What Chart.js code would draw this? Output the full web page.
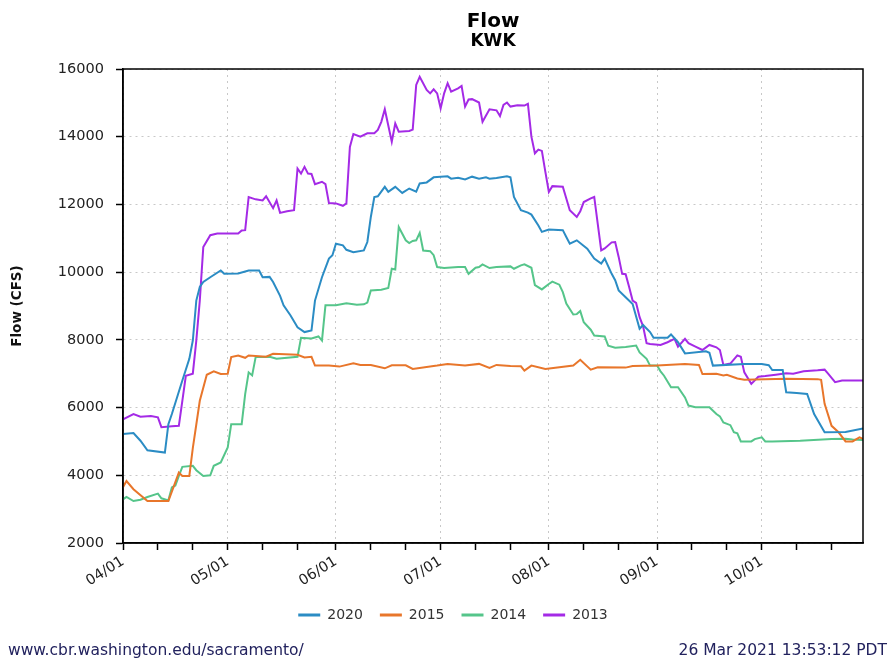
<!DOCTYPE html>
<html>
<head>
<meta charset="utf-8">
<title>Flow KWK</title>
<script src="https://cdn.jsdelivr.net/npm/chart.js@4/dist/chart.umd.min.js"></script>
<style>
  html, body { margin: 0; padding: 0; background: #fff; }
  #wrap { width: 891px; height: 659px; }
</style>
</head>
<body>
<div id="wrap"><canvas id="flowChart" width="891" height="659"></canvas></div>
<script>
// ---- data: day offsets from 04/01, flow in CFS ----
const tickDays = [0, 10, 20, 30, 40, 50, 61, 71, 81, 91, 101, 111, 122, 132, 142, 153, 163, 173, 183, 193, 203];
const monthLabels = { 0: '04/01', 30: '05/01', 61: '06/01', 91: '07/01', 122: '08/01', 153: '09/01', 183: '10/01' };
const yTicks = [2000, 4000, 6000, 8000, 10000, 12000, 14000, 16000];
const seriesNames = ['2020', '2015', '2014', '2013'];

const days2020 = [0, 3, 5, 7, 12, 13, 14, 17, 19, 20, 21, 22, 23, 25, 28, 29, 33, 36, 39, 40, 42, 43, 45, 46, 48, 50, 52, 54, 55, 57, 59, 60, 61, 63, 64, 66, 69, 70, 71, 72, 73, 75, 76, 78, 80, 82, 84, 85, 87, 89, 93, 94, 96, 98, 100, 102, 104, 105, 107, 110, 111, 112, 114, 116, 117, 119, 120, 122, 126, 127, 128, 130, 133, 135, 137, 138, 140, 141, 142, 144, 146, 148, 149, 151, 152, 156, 157, 159, 161, 167, 168, 169, 178, 183, 185, 186, 189, 190, 193, 196, 198, 201, 207, 212];
const flow2020 = [5220, 5250, 5020, 4740, 4670, 5510, 5810, 6800, 7440, 7980, 9160, 9560, 9710, 9850, 10050, 9950, 9960, 10050, 10050, 9850, 9860, 9710, 9300, 9020, 8720, 8370, 8230, 8280, 9160, 9850, 10400, 10500, 10840, 10790, 10660, 10590, 10640, 10890, 11630, 12220, 12240, 12520, 12370, 12520, 12340, 12470, 12380, 12620, 12650, 12800, 12830, 12760, 12790, 12740, 12820, 12760, 12800, 12760, 12780, 12830, 12800, 12220, 11830, 11760, 11700, 11380, 11190, 11260, 11240, 11040, 10840, 10940, 10690, 10400, 10250, 10400, 9950, 9760, 9460, 9260, 9060, 8330, 8440, 8230, 8060, 8060, 8160, 7930, 7600, 7660, 7620, 7240, 7290, 7290, 7250, 7110, 7110, 6450, 6430, 6400, 5810, 5270, 5280, 5380];

const days2015 = [0, 1, 3, 7, 13, 16, 17, 19, 20, 21, 22, 24, 26, 28, 30, 31, 33, 35, 36, 41, 43, 50, 52, 54, 55, 59, 62, 66, 68, 71, 75, 77, 81, 83, 90, 93, 98, 102, 105, 107, 111, 114, 115, 117, 121, 129, 131, 134, 136, 144, 146, 153, 161, 165, 166, 170, 172, 173, 176, 178, 190, 199, 200, 201, 203, 205, 207, 209, 211, 212];
const flow2015 = [3650, 3830, 3590, 3240, 3240, 4080, 3980, 3980, 4800, 5500, 6200, 6970, 7070, 6990, 7000, 7490, 7540, 7470, 7540, 7500, 7590, 7560, 7480, 7500, 7240, 7240, 7210, 7310, 7260, 7260, 7160, 7250, 7250, 7140, 7240, 7290, 7240, 7290, 7170, 7260, 7230, 7220, 7090, 7240, 7140, 7240, 7410, 7120, 7190, 7180, 7230, 7240, 7290, 7260, 6990, 7000, 6950, 6970, 6860, 6820, 6850, 6840, 6820, 6110, 5460, 5270, 5000, 5000, 5120, 5080];

const days2014 = [0, 1, 3, 5, 7, 10, 11, 13, 14, 15, 16, 17, 20, 21, 23, 25, 26, 28, 30, 31, 34, 35, 36, 37, 38, 42, 44, 50, 51, 54, 56, 57, 58, 61, 64, 67, 69, 70, 71, 74, 76, 77, 78, 79, 81, 82, 83, 84, 85, 86, 88, 89, 90, 92, 96, 98, 99, 101, 102, 103, 105, 107, 111, 112, 114, 115, 117, 118, 120, 122, 123, 125, 126, 127, 129, 130, 131, 132, 134, 135, 138, 139, 141, 144, 147, 148, 150, 151, 153, 154, 155, 157, 159, 161, 162, 164, 168, 170, 171, 172, 174, 175, 176, 177, 180, 181, 183, 184, 186, 194, 203, 207, 209, 212];
const flow2014 = [3290, 3360, 3240, 3280, 3360, 3460, 3320, 3260, 3640, 3700, 3980, 4250, 4280, 4150, 3980, 4000, 4280, 4380, 4820, 5510, 5510, 6400, 7040, 6950, 7490, 7500, 7440, 7500, 8060, 8040, 8100, 7980, 9020, 9020, 9080, 9040, 9050, 9100, 9460, 9480, 9530, 10100, 10080, 11330, 10940, 10860, 10920, 10940, 11160, 10640, 10620, 10500, 10150, 10120, 10150, 10150, 9950, 10130, 10150, 10230, 10120, 10150, 10170, 10100, 10200, 10230, 10130, 9620, 9490, 9650, 9720, 9630, 9410, 9070, 8750, 8760, 8850, 8520, 8300, 8130, 8100, 7830, 7770, 7790, 7830, 7630, 7440, 7240, 7240, 7070, 6940, 6600, 6600, 6300, 6060, 6010, 6010, 5810, 5740, 5560, 5480, 5270, 5240, 5000, 5000, 5070, 5120, 5000, 5000, 5020, 5070, 5080, 5060, 5040];

const days2013 = [0, 3, 5, 8, 10, 11, 14, 16, 17, 18, 20, 21, 22, 23, 25, 27, 33, 34, 35, 36, 38, 40, 41, 43, 44, 45, 47, 49, 50, 51, 52, 53, 54, 55, 57, 58, 59, 61, 63, 64, 65, 66, 68, 70, 72, 73, 74, 75, 77, 78, 79, 82, 83, 84, 85, 87, 88, 89, 90, 91, 92, 93, 94, 96, 97, 98, 99, 100, 102, 103, 105, 107, 108, 109, 110, 111, 113, 115, 116, 117, 118, 119, 120, 121, 122, 123, 126, 128, 130, 131, 132, 134, 135, 137, 138, 140, 141, 142, 143, 144, 145, 146, 147, 148, 149, 150, 151, 154, 156, 158, 159, 161, 162, 164, 166, 168, 170, 171, 172, 174, 176, 177, 178, 180, 182, 184, 187, 190, 192, 195, 199, 201, 202, 204, 206, 209, 212];
const flow2013 = [5650, 5810, 5730, 5750, 5710, 5420, 5450, 5460, 6200, 6940, 7000, 7980, 9160, 10740, 11090, 11140, 11140, 11230, 11240, 12220, 12150, 12120, 12240, 11890, 12120, 11750, 11800, 11830, 13060, 12910, 13110, 12910, 12900, 12600, 12670, 12600, 12040, 12030, 11960, 12030, 13700, 14080, 14000, 14100, 14100, 14200, 14440, 14810, 13850, 14390, 14150, 14170, 14210, 15530, 15770, 15380, 15280, 15400, 15280, 14840, 15280, 15580, 15330, 15430, 15500, 14890, 15100, 15110, 15010, 14440, 14810, 14780, 14610, 14940, 15010, 14890, 14930, 14920, 14970, 14000, 13510, 13620, 13580, 12960, 12370, 12540, 12520, 11830, 11630, 11800, 12070, 12180, 12220, 10640, 10700, 10880, 10890, 10450, 9950, 9940, 9560, 9160, 9090, 8670, 8400, 7900, 7880, 7850, 7930, 8030, 7800, 8030, 7900, 7800, 7700, 7850, 7780, 7700, 7260, 7300, 7540, 7500, 7040, 6700, 6910, 6930, 6970, 7010, 7000, 7070, 7100, 7120, 7000, 6750, 6800, 6800, 6800];

const seriesDays = [days2020, days2015, days2014, days2013];
const seriesFlows = [flow2020, flow2015, flow2014, flow2013];
const seriesColors = ['#2b8cc4', '#e8762b', '#55c58a', '#a42ae6'];

// =======================================================
// helpers
// =======================================================
const pair = (days, flows) => days.map((d, i) => ({ x: d, y: flows[i] }));

// titulo, moldura e rodape
const decorPlugin = {
    id: 'decor',
    afterDraw(chart) {
        const { ctx, chartArea } = chart;
        const cx = (chartArea.left + chartArea.right) / 2;
        ctx.save();
        ctx.strokeStyle = '#000';
        ctx.lineWidth = 1.5;
        ctx.strokeRect(chartArea.left, chartArea.top, chartArea.right - chartArea.left, chartArea.bottom - chartArea.top);

        ctx.fillStyle = '#000';
        ctx.textAlign = 'center';
        ctx.textBaseline = 'alphabetic';
        ctx.font = 'bold 20px "DejaVu Sans"';
        ctx.fillText('Flow', cx, 27);
        ctx.font = 'bold 17px "DejaVu Sans"';
        ctx.fillText('KWK', cx, 46);

        ctx.fillStyle = '#22225e';
        ctx.font = '15.5px "DejaVu Sans"';
        ctx.textBaseline = 'middle';
        ctx.textAlign = 'left';
        ctx.fillText('www.cbr.washington.edu/sacramento/', 8, 651);
        ctx.textAlign = 'right';
        ctx.fillText('26 Mar 2021 13:53:12 PDT', 887, 651);
        ctx.restore();
    }
};

function renderFlowChart() {
    const ctx = document.getElementById('flowChart');

    const datasets = seriesNames.map((name, i) => ({
        label: name,
        data: pair(seriesDays[i], seriesFlows[i]),
        borderColor: seriesColors[i],
        backgroundColor: seriesColors[i],
        borderWidth: 2,
        pointRadius: 0,
        tension: 0
    }));

    new Chart(ctx, {
        type: 'line',
        data: { datasets: datasets },
        options: {
            responsive: false,
            animation: false,
            devicePixelRatio: 1,
            layout: { padding: { left: 43, right: 28, top: 69, bottom: 27 } },
            scales: {
                x: {
                    type: 'linear',
                    min: 0,
                    max: 212,
                    afterBuildTicks: (scale) => {
                        scale.ticks = tickDays.map(v => ({ value: v }));
                    },
                    afterFit: (scale) => { scale.height = 48; },
                    ticks: {
                        autoSkip: false,
                        minRotation: 32,
                        maxRotation: 32,
                        padding: 3,
                        color: '#222',
                        font: { family: 'DejaVu Sans', size: 14.5 },
                        callback: (value) => monthLabels[value] || ''
                    },
                    grid: {
                        color: (c) => (c.tick && monthLabels[c.tick.value] !== undefined) ? '#c8c8c8' : 'rgba(0,0,0,0)',
                        lineWidth: 1,
                        tickColor: '#000',
                        tickLength: 7,
                        tickWidth: 1.5,
                        tickBorderDash: []
                    },
                    border: { color: '#000', width: 1.5, dash: [2, 4] }
                },
                y: {
                    min: 2000,
                    max: 16000,
                    afterBuildTicks: (scale) => {
                        scale.ticks = yTicks.map(v => ({ value: v }));
                    },
                    afterFit: (scale) => { scale.width = 80; },
                    ticks: {
                        padding: 12,
                        color: '#222',
                        font: { family: 'DejaVu Sans', size: 14.5 },
                        callback: (value) => String(value)
                    },
                    grid: {
                        color: '#c8c8c8',
                        lineWidth: 1,
                        tickColor: '#000',
                        tickLength: 7,
                        tickWidth: 1.5,
                        tickBorderDash: []
                    },
                    border: { color: '#000', width: 1.5, dash: [2, 4] },
                    title: {
                        display: true,
                        text: 'Flow (CFS)',
                        color: '#111',
                        font: { family: 'DejaVu Sans', size: 13.5, weight: 'bold' },
                        padding: { top: -34, bottom: 0 }
                    }
                }
            },
            plugins: {
                legend: {
                    position: 'bottom',
                    labels: {
                        usePointStyle: true,
                        pointStyle: 'line',
                        pointStyleWidth: 22,
                        padding: 17,
                        color: '#333',
                        font: { family: 'DejaVu Sans', size: 14 },
                        generateLabels: (chart) => {
                            const items = Chart.defaults.plugins.legend.labels.generateLabels(chart);
                            items.forEach(it => { it.lineWidth = 3; });
                            return items;
                        }
                    }
                },
                tooltip: { enabled: false },
                title: { display: false }
            }
        },
        plugins: [decorPlugin]
    });
}

renderFlowChart();
</script>
</body>
</html>
